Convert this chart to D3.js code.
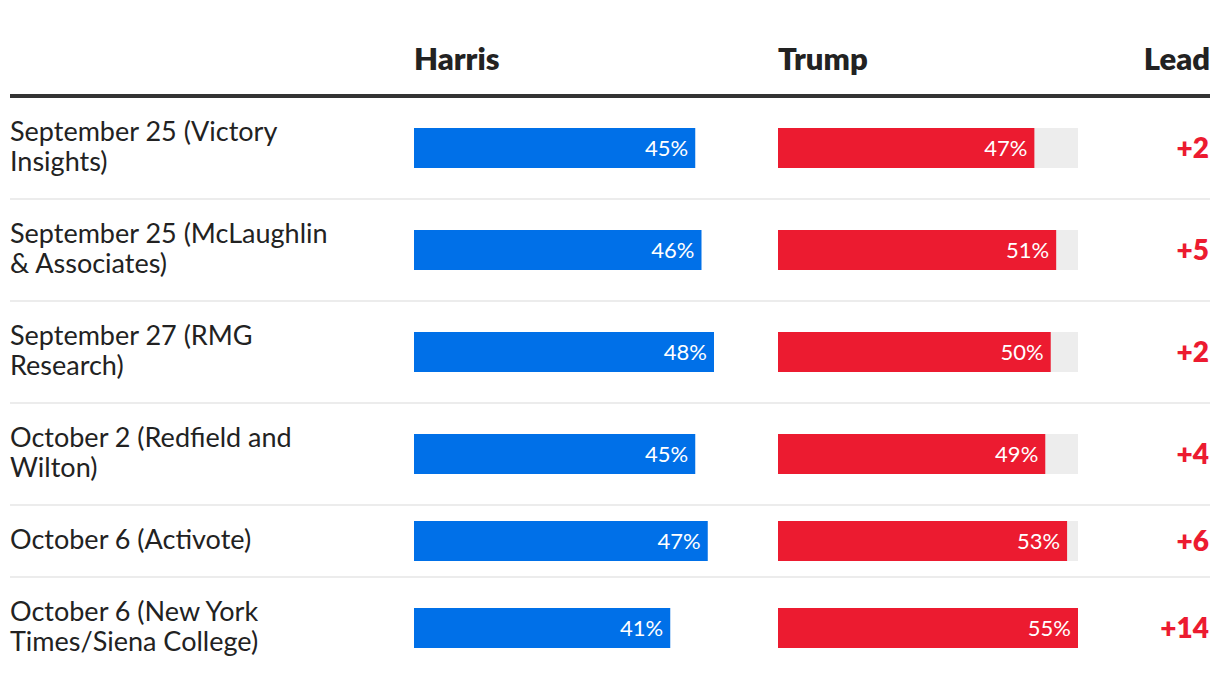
<!DOCTYPE html>
<html><head><meta charset="utf-8">
<script src="https://cdn.jsdelivr.net/npm/d3@7"></script>
<style>
html,body{margin:0;padding:0;background:#fff;}
svg{display:block;font-family:Lato,"Open Sans",sans-serif;}
</style></head>
<body><svg id="chart" width="1220" height="688"></svg>
<script>
const polls = ["September 25 (Victory\nInsights)", "September 25 (McLaughlin\n& Associates)", "September 27 (RMG\nResearch)", "October 2 (Redfield and\nWilton)", "October 6 (Activote)", "October 6 (New York\nTimes/Siena College)"];
const harris = [45, 46, 48, 45, 47, 41];
const trump = [47, 51, 50, 49, 53, 55];
const columns = ["Harris", "Trump", "Lead"];

const svg = d3.select("#chart");
const left = 10, right = 1210;
const hx = 414, tx = 778, barW = 300, barH = 40;
const xH = d3.scaleLinear().domain([0, d3.max(harris)]).range([0, barW]);
const xT = d3.scaleLinear().domain([0, d3.max(trump)]).range([0, barW]);

// headers
const hdr = svg.append("g").attr("font-weight", 800).attr("font-size", 31).attr("fill", "#222");
hdr.append("text").attr("x", hx).attr("y", 70).text(columns[0]);
hdr.append("text").attr("x", tx).attr("y", 70).text(columns[1]);
hdr.append("text").attr("x", right).attr("y", 70).attr("text-anchor", "end").text(columns[2]);
svg.append("rect").attr("x", left).attr("y", 94).attr("width", right - left).attr("height", 4).attr("fill", "#333");

// rows layout
const rows = polls.map((p, i) => ({ lines: p.split("\n"), h: harris[i], t: trump[i], lead: trump[i] - harris[i] }));
let y = 98;
rows.forEach(r => { r.h0 = r.lines.length > 1 ? 100 : 70; r.y = y; y += r.h0 + 2; });

const g = svg.selectAll("g.row").data(rows).join("g").attr("class", "row")
  .attr("transform", d => `translate(0,${d.y})`);

g.filter((d, i) => i < rows.length - 1).append("rect")
  .attr("x", left).attr("y", d => d.h0).attr("width", right - left).attr("height", 2).attr("fill", "#ececec");

g.each(function(d) {
  const s = d3.select(this);
  const cy = d.h0 / 2;
  const lh = 30;
  const t = s.append("text").attr("font-size", 27).attr("fill", "#222");
  d.lines.forEach((ln, k) => {
    t.append("tspan").attr("x", left)
      .attr("y", cy + (k - (d.lines.length - 1) / 2) * lh + 8).text(ln);
  });
  // Harris bar
  s.append("rect").attr("x", hx).attr("y", cy - barH / 2).attr("width", xH(d.h)).attr("height", barH).attr("fill", "#0070e8");
  s.append("text").attr("x", hx + xH(d.h) - 7).attr("y", cy + 8).attr("text-anchor", "end")
    .attr("font-size", 22).attr("fill", "#fff").text(d.h + "%");
  // Trump bar
  s.append("rect").attr("x", tx).attr("y", cy - barH / 2).attr("width", xT.range()[1]).attr("height", barH).attr("fill", "#ededed");
  s.append("rect").attr("x", tx).attr("y", cy - barH / 2).attr("width", xT(d.t)).attr("height", barH).attr("fill", "#ec1b30");
  s.append("text").attr("x", tx + xT(d.t) - 7).attr("y", cy + 8).attr("text-anchor", "end")
    .attr("font-size", 22).attr("fill", "#fff").text(d.t + "%");
  // Lead
  s.append("text").attr("x", right - 1).attr("y", cy + 10).attr("text-anchor", "end")
    .attr("font-size", 28).attr("font-weight", 800).attr("fill", "#ec1b30").text("+" + d.lead);
});
</script></body></html>
